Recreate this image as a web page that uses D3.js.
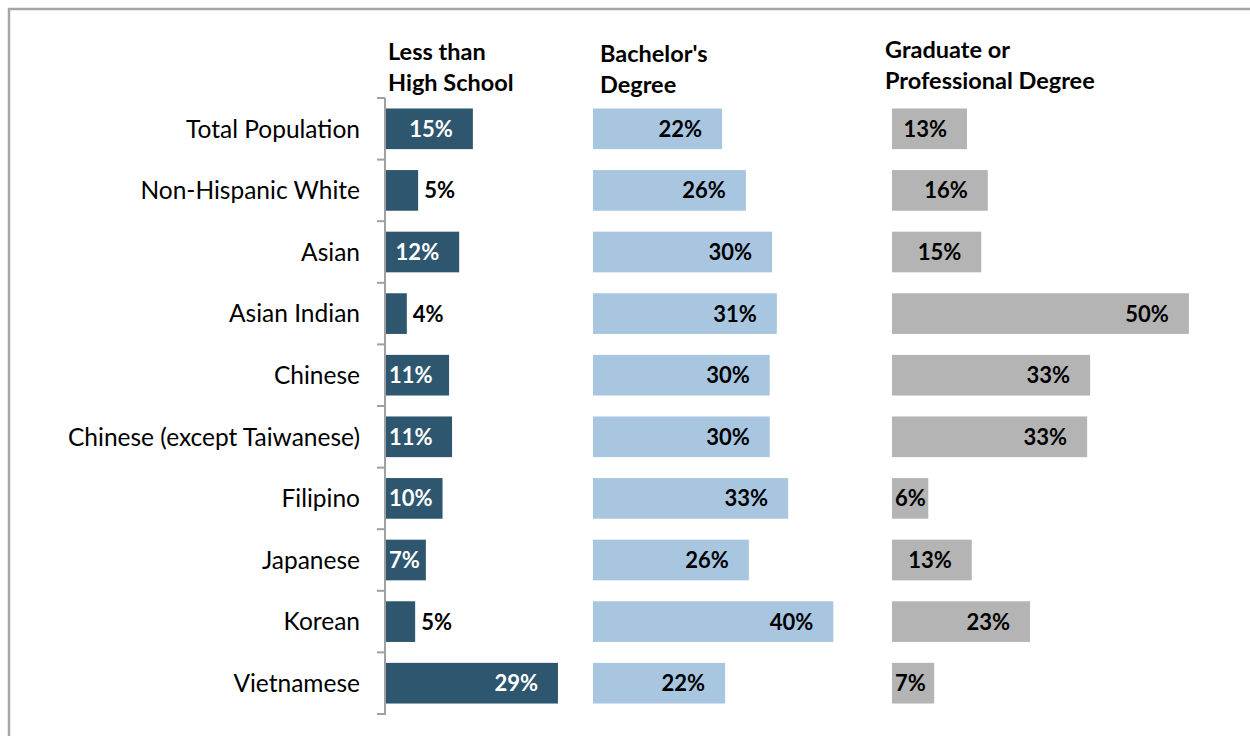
<!DOCTYPE html>
<html>
<head>
<meta charset="utf-8">
<script src="https://cdn.jsdelivr.net/npm/d3@7"></script>
<style>
  body { margin: 0; background: #fff; }
  text { font-family: Lato, "Open Sans", sans-serif; }
</style>
</head>
<body>
<div id="chart"></div>
<script>
// data (percent)
var categories = ["Total Population", "Non-Hispanic White", "Asian", "Asian Indian", "Chinese",
  "Chinese (except Taiwanese)", "Filipino", "Japanese", "Korean", "Vietnamese"];
var lessThanHS = [14.6, 5.4, 12.3, 3.5, 10.6, 11.1, 9.5, 6.7, 4.9, 28.9];
var bachelors = [21.7, 25.7, 30.1, 30.9, 29.7, 29.7, 32.8, 26.2, 40.4, 22.2];
var graduate = [12.6, 16.1, 15.0, 49.9, 33.3, 32.8, 6.1, 13.4, 23.2, 7.1];
var headers = [["Less than", "High School"], ["Bachelor's", "Degree"], ["Graduate or", "Professional Degree"]];

var svgWidth = 1250;
var svgHeight = 736;

var svg = d3.select("#chart")
  .append("svg")
  .attr("width", svgWidth)
  .attr("height", svgHeight);

// outer frame (runs off the right and bottom edges)
svg.append("rect")
  .attr("x", 9)
  .attr("y", 9)
  .attr("width", 1300)
  .attr("height", 800)
  .attr("fill", "none")
  .attr("stroke", "#a6a6a6")
  .attr("stroke-width", 2.5);

// band scale for rows
var yScale = d3.scaleBand()
  .domain(categories)
  .range([98, 714])
  .paddingInner(0.34)
  .paddingOuter(0.17);

var pxPerPct = 5.95;

// one panel per series
var panels = [
  { values: lessThanHS, start: 386, fill: "#2e566e", inText: "#ffffff", head: headers[0], headX: 388, headY: 60 },
  { values: bachelors, start: 593, fill: "#a9c6e0", inText: "#000000", head: headers[1], headX: 600, headY: 62 },
  { values: graduate, start: 892, fill: "#b4b4b4", inText: "#000000", head: headers[2], headX: 885, headY: 58 }
];

panels.forEach(function(p) {
  var x = d3.scaleLinear()
    .domain([0, 50])
    .range([p.start, p.start + 50 * pxPerPct]);

  var g = svg.append("g");

  g.selectAll("rect")
    .data(p.values)
    .enter()
    .append("rect")
    .attr("x", x(0))
    .attr("y", (d, i) => yScale(categories[i]))
    .attr("width", d => x(d) - x(0))
    .attr("height", yScale.bandwidth())
    .attr("fill", p.fill);

  // value labels: inside end, pushed to the left edge for short bars, outside if too short
  g.selectAll("text.val")
    .data(p.values)
    .enter()
    .append("text")
    .attr("class", "val")
    .attr("y", (d, i) => yScale(categories[i]) + yScale.bandwidth() / 2)
    .attr("dy", "0.36em")
    .attr("font-size", 22)
    .attr("font-weight", "bold")
    .text(d => Math.round(d) + "%")
    .each(function(d) {
      var t = d3.select(this);
      var w = this.getComputedTextLength();
      var end = x(d);
      var barW = end - x(0);
      if (w + 4 > barW) {
        t.attr("x", end + 6).attr("fill", "#000");
      } else {
        var left = Math.max(end - 20 - w, x(0) + 3);
        t.attr("x", left).attr("fill", p.inText);
      }
    });

  g.selectAll("text.head")
    .data(p.head)
    .enter()
    .append("text")
    .attr("class", "head")
    .attr("x", p.headX)
    .attr("y", (d, i) => p.headY + i * 31)
    .attr("font-size", 23.5)
    .attr("font-weight", "bold")
    .attr("fill", "#000")
    .text(d => d);
});

// left category axis
var yAxis = svg.append("g")
  .attr("transform", "translate(385, 0)");

yAxis.append("line")
  .attr("x1", 0).attr("x2", 0)
  .attr("y1", 98).attr("y2", 715)
  .attr("stroke", "#a0a0a0")
  .attr("stroke-width", 2);

var boundaries = categories.map(c => yScale(c) - yScale.step() * yScale.paddingInner() / 2);
boundaries.push(714);
boundaries[0] = 98;

yAxis.selectAll("line.tick")
  .data(boundaries)
  .enter()
  .append("line")
  .attr("class", "tick")
  .attr("x1", -8).attr("x2", 0)
  .attr("y1", d => d).attr("y2", d => d)
  .attr("stroke", "#a0a0a0")
  .attr("stroke-width", 2);

yAxis.selectAll("text")
  .data(categories)
  .enter()
  .append("text")
  .attr("x", -25)
  .attr("y", d => yScale(d) + yScale.bandwidth() / 2)
  .attr("dy", "0.36em")
  .attr("text-anchor", "end")
  .attr("font-size", 24.5)
  .attr("fill", "#000")
  .text(d => d);
</script>
</body>
</html>
